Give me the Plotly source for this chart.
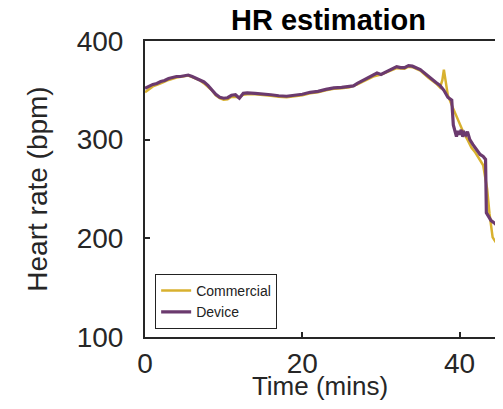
import plotly.graph_objects as go

# Device (purple) trace
device_t = [0, 0.5, 1, 1.5, 2, 2.5, 3, 3.5, 4, 4.5, 5, 5.5, 6, 6.5, 7, 7.5, 8, 8.5, 9, 9.5,
            10, 10.5, 11, 11.5, 12, 12.5, 13, 14, 15, 16, 17, 18, 19, 20, 21, 22, 23, 24, 25, 26,
            26.5, 27, 28, 29, 29.5, 30, 31, 32, 32.5, 33, 33.5, 34, 35, 36, 37, 37.5, 38, 38.5, 39,
            39.2, 39.4, 39.6, 39.8, 40, 40.2, 40.4, 40.6, 40.8, 41, 41.3, 41.7, 42.2, 42.6, 43,
            43.3, 43.4, 44, 44.5, 45, 45.5, 46.2]
device_hr = [352, 354, 356, 357, 359, 360, 362, 363, 364, 364, 365, 365.5, 364, 362, 360, 358.5,
             355, 350, 346, 343, 342, 342.5, 345, 345.5, 342, 347, 347.5, 347, 346.5, 345.5, 344.5,
             344, 345, 346, 348, 349, 351, 352.5, 353, 354, 354.5, 357, 361, 365, 367.5, 366, 370,
             374, 373, 373, 375, 374.5, 371, 364, 358, 355, 350, 343, 340, 315, 308, 303, 309, 305,
             310, 303, 307, 305, 308, 300, 295, 289, 285, 283, 280, 226, 218, 215, 211, 208, 205]

# Commercial (gold) trace
comm_t = [0, 0.5, 1, 2, 3, 4, 5, 5.5, 6, 7, 7.5, 8, 8.5, 9, 9.5, 10, 10.5, 11, 12, 12.5, 13, 14,
          15, 16, 17, 18, 19, 20, 21, 22, 23, 24, 25, 26, 27, 28, 29, 30, 31, 32, 33, 33.5, 34, 35,
          36, 37, 37.5, 37.8, 38, 38.2, 38.5, 39, 39.5, 40, 40.5, 41, 41.5, 42, 42.5, 43, 43.5,
          43.8, 44.2, 44.6, 45, 45.5, 46.2]
comm_hr = [348, 351, 354, 357, 360.5, 363, 364.5, 365, 363.5, 360, 357, 353.5, 350, 345, 342,
           340.5, 341, 343.5, 343, 345.5, 346, 346, 345.5, 344.5, 343.5, 343, 344, 345, 347, 348,
           350, 351.5, 352, 353, 356, 360, 364, 366, 369, 372.5, 372, 374, 373.5, 370, 363, 357,
           353, 360, 371, 362, 345, 335, 325, 315, 307, 300, 292, 287, 281, 274, 250, 225, 201,
           196, 195, 201, 207]

axis_col = "#262626"
font = "Liberation Sans, Arial, sans-serif"

fig = go.Figure()
fig.add_trace(go.Scatter(x=comm_t, y=comm_hr, mode="lines", name="Commercial",
                         line=dict(color="#D8B12F", width=2.5)))
fig.add_trace(go.Scatter(x=device_t, y=device_hr, mode="lines", name="Device",
                         line=dict(color="#6B3A6E", width=3.2)))

# the page body has an 8px margin; keep the figure inside the window so no scrollbars appear
fig.update_layout(
    width=487, height=393,
    margin=dict(l=137, r=0, t=33, b=64),
    plot_bgcolor="white", paper_bgcolor="white",
    font=dict(family=font, color=axis_col),
    title=dict(text="<b>HR estimation</b>", x=0.658, xref="container", xanchor="center",
               y=0.9695, yanchor="middle", font=dict(size=29, color="black")),
    legend=dict(x=0.029, y=0.027, xanchor="left", yanchor="bottom",
                bgcolor="white", bordercolor="#222", borderwidth=1,
                font=dict(size=14, color="#222"), tracegroupgap=0, itemwidth=30),
    showlegend=True,
)
fig.update_xaxes(range=[0, 44.5], tickvals=[0, 20, 40], ticks="inside", ticklen=5,
                 tickcolor=axis_col, tickwidth=1.5, showline=True, linecolor=axis_col,
                 linewidth=2, mirror=True, showgrid=False, zeroline=False, automargin=False,
                 tickfont=dict(size=28), ticklabelstandoff=0,
                 title=dict(text="Time (mins)", font=dict(size=26), standoff=4))
fig.update_yaxes(range=[100, 400], tickvals=[100, 200, 300, 400], ticks="inside", ticklen=5,
                 tickcolor=axis_col, tickwidth=1.5, showline=True, linecolor=axis_col,
                 linewidth=2, showgrid=False, zeroline=False, automargin=False,
                 tickfont=dict(size=28), ticklabelstandoff=14,
                 title=dict(text="Heart rate (bpm)", font=dict(size=28), standoff=21))

fig.write_html("out.html")
